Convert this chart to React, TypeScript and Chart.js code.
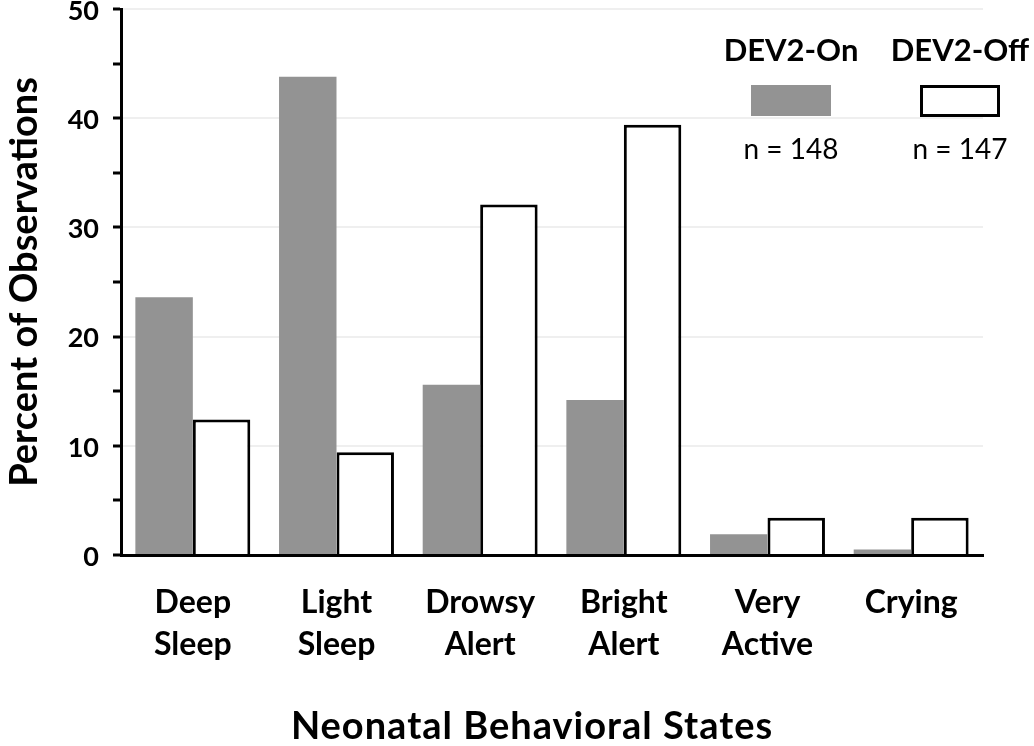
import React, { useEffect, useRef } from "react";
import { Chart, registerables } from "chart.js";

Chart.register(...registerables);

const categories: string[][] = [
  ["Deep", "Sleep"],
  ["Light", "Sleep"],
  ["Drowsy", "Alert"],
  ["Bright", "Alert"],
  ["Very", "Active"],
  ["Crying"],
];
const seriesLabels = ["DEV2-On", "DEV2-Off"];
const sampleSizes = [148, 147];
const devOn = [23.6, 43.8, 15.6, 14.2, 1.9, 0.5];
const devOff = [12.4, 9.4, 32.1, 39.4, 3.4, 3.4];
const yTickMax = 50;
const yStep = 5;
const xTitle = "Neonatal Behavioral States";
const yTitle = "Percent of Observations";

const FONT = "Lato, 'DejaVu Sans', sans-serif";
const GRAY = "#939393";

const legendPlugin = {
  id: "customLegend",
  afterDraw(chart: any) {
    const ctx = chart.ctx;
    const centers = [791, 960];
    ctx.save();
    chart.data.datasets.forEach((ds: any, i: number) => {
      const cx = centers[i];
      ctx.fillStyle = "#000";
      ctx.textAlign = "center";
      ctx.textBaseline = "middle";
      ctx.font = `bold 31px ${FONT}`;
      ctx.fillText(ds.label, cx, 51);
      const w = 80;
      const h = 32;
      const bx = cx - w / 2;
      const by = 85;
      if (i === 0) {
        ctx.fillStyle = ds.backgroundColor;
        ctx.fillRect(bx, by, w, h - 1);
      } else {
        ctx.fillStyle = "#fff";
        ctx.fillRect(bx, by, w, h);
        ctx.lineWidth = 3;
        ctx.strokeStyle = "#000";
        ctx.strokeRect(bx + 1.5, by + 1.5, w - 3, h - 3);
      }
      ctx.fillStyle = "#000";
      ctx.font = `28px ${FONT}`;
      ctx.fillText(`n = ${sampleSizes[i]}`, cx, 150);
    });
    // x-axis title
    ctx.font = `bold 38px ${FONT}`;
    (ctx as any).letterSpacing = "1px";
    ctx.textAlign = "center";
    ctx.textBaseline = "middle";
    ctx.fillStyle = "#000";
    ctx.fillText(xTitle, 532, 727);
    ctx.restore();
  },
};

export default function App() {
  const ref = useRef<HTMLCanvasElement | null>(null);
  useEffect(() => {
    if (!ref.current) return;
    const chart = new Chart(ref.current, {
      type: "bar",
      data: {
        labels: categories,
        datasets: [
          {
            label: seriesLabels[0],
            data: devOn,
            backgroundColor: GRAY,
            borderWidth: 0,
          },
          {
            label: seriesLabels[1],
            data: devOff,
            backgroundColor: "#ffffff",
            borderColor: "#000000",
            borderWidth: 3,
          },
        ],
      },
      options: {
        animation: false,
        responsive: false,
        maintainAspectRatio: false,
        layout: {
          autoPadding: false,
          padding: { top: 9, right: 51, left: 0, bottom: 0 },
        },
        plugins: {
          legend: { display: false },
          tooltip: { enabled: false },
        },
        datasets: {
          bar: { categoryPercentage: 0.8, barPercentage: 1.0 },
        },
        scales: {
          x: {
            grid: { display: false },
            border: { display: true, color: "#000", width: 3 },
            ticks: {
              color: "#000",
              font: { family: FONT, size: 32, weight: "bold", lineHeight: 1.3 },
              padding: 19,
              maxRotation: 0,
              autoSkip: false,
            },
            title: { display: false, text: xTitle },
            afterFit(scale: any) {
              scale.height = 191;
              scale.paddingLeft = 0;
              scale.paddingRight = 0;
            },
          },
          y: {
            min: 0,
            max: yTickMax,
            ticks: {
              stepSize: yStep,
              color: "#000",
              font: { family: FONT, size: 27, weight: "bold" },
              padding: 14,
              labelOffset: 2,
              callback: (v: any) => (Number(v) % 10 === 0 ? String(v) : ""),
            },
            grid: {
              color: (c: any) =>
                c.tick && c.tick.value % 10 === 0 && c.tick.value > 0 ? "#efefef" : "rgba(0,0,0,0)",
              tickColor: "#000",
              tickLength: 8,
              tickWidth: 3,
              lineWidth: 2,
            },
            border: { display: true, color: "#000", width: 3 },
            title: {
              display: true,
              text: yTitle,
              color: "#000",
              font: { family: FONT, size: 38, weight: "bold", lineHeight: 1 },
              padding: { top: 6, bottom: 0 },
            },
            afterFit(scale: any) {
              scale.width = 121;
              scale.paddingTop = 0;
              scale.paddingBottom = 0;
            },
          },
        },
      },
      plugins: [legendPlugin],
    } as any);
    return () => chart.destroy();
  }, []);
  return (
    <div style={{ position: "absolute", left: 0, top: 0, width: 1034, height: 746, background: "#fff" }}>
      <canvas ref={ref} width={1034} height={746} style={{ display: "block" }} />
    </div>
  );
}
